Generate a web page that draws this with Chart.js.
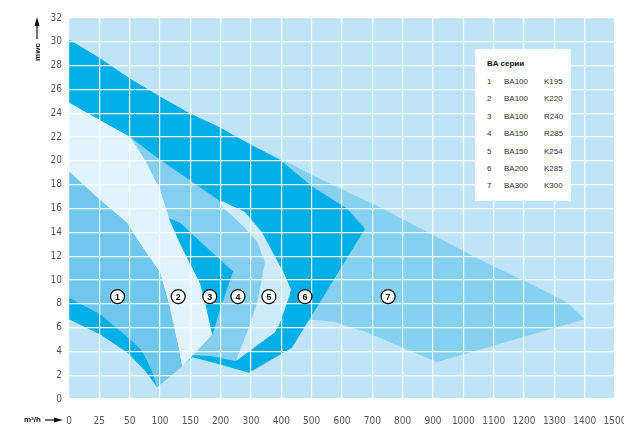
<!DOCTYPE html>
<html>
<head>
<meta charset="utf-8">
<script src="https://cdn.jsdelivr.net/npm/chart.js@4.4.1/dist/chart.umd.min.js"></script>
<style>
  body { margin: 0; background: #fff; }
  #wrap { position: relative; width: 624px; height: 428px; }
  .axlbl { position: absolute; font-family: 'Liberation Sans', Arial, sans-serif; font-weight: bold; font-size: 8px; color: #111; white-space: nowrap; }
  #legend { position: absolute; left: 475px; top: 49px; width: 96px; height: 152px; background: #fff;
            font-family: 'Liberation Sans', Arial, sans-serif; font-size: 8px; color: #333; }
  #legend div { position: absolute; line-height: 10px; white-space: nowrap; }
</style>
</head>
<body>
<div id="wrap">
  <canvas id="chart" width="624" height="428"></canvas>
  <div class="axlbl" style="left:37px;top:52px;transform:translate(-50%,-50%) rotate(-90deg);">mwc</div>
  <div class="axlbl" style="left:24px;top:415px;line-height:10px;">m³/h</div>
  <div id="legend"></div>
</div>
<script>
// x axis ticks are evenly spaced but not linear in m3/h
const xLabels = [0, 25, 50, 100, 150, 200, 300, 400, 500, 600, 700, 800, 900, 1000, 1100, 1200, 1300, 1400, 1500];

// working areas, flow in m3/h, head in mwc
const r7Flow = [330, 504, 616, 725, 890, 1078, 1220, 1342, 1400, 913, 791, 682, 570, 478, 395, 297];
const r7Head = [21.0, 18.8, 17.4, 16.1, 13.9, 11.4, 9.7, 8.1, 6.7, 3.1, 4.4, 5.6, 6.5, 6.7, 6.6, 12.5];

const r6Flow = [0, 26, 51, 100, 149, 199, 297, 395, 504, 616, 676, 435, 293, 199, 153, 95, 75, 48, 26, 0];
const r6Head = [30.2, 28.6, 26.9, 25.4, 24.0, 22.8, 21.4, 20.1, 17.8, 16.0, 14.3, 4.3, 2.2, 2.9, 3.5, 1.0, 2.4, 3.9, 5.4, 6.7];

const r4Flow = [51, 100, 149, 199, 297, 363, 412, 429, 389, 247, 186, 149, 125, 100, 67];
const r4Head = [22.0, 20.1, 18.4, 16.6, 15.0, 12.5, 10.0, 8.7, 6.1, 3.2, 3.6, 3.7, 5.0, 12.5, 18.4];

const r3Flow = [100, 133, 182, 241, 199, 186, 149, 108];
const r3Head = [15.5, 14.8, 12.5, 10.7, 7.5, 5.3, 8.3, 13.4];

const r5Flow = [199, 280, 336, 376, 406, 432, 396, 379, 250, 290, 323, 346, 320, 274, 224, 204];
const r5Head = [16.7, 15.7, 14.0, 12.1, 10.7, 9.2, 6.4, 5.6, 3.2, 5.8, 8.3, 11.5, 13.2, 14.5, 15.7, 16.1];

const r2Flow = [0, 26, 51, 75, 100, 116, 135, 166, 177, 186, 136, 130, 116, 100, 69, 0];
const r2Head = [24.9, 23.4, 22.0, 20.1, 17.6, 15.0, 12.8, 9.7, 7.5, 5.4, 2.7, 4.4, 7.7, 10.6, 12.9, 19.1];

const r1Flow = [0, 26, 48, 69, 100, 116, 130, 136, 95, 87, 70, 48, 26, 0];
const r1Head = [19.1, 16.7, 14.8, 12.9, 10.6, 7.7, 4.4, 2.7, 1.0, 2.3, 4.1, 5.2, 7.1, 8.5];

// circled numbers
const labelNum = [1, 2, 3, 4, 5, 6, 7];
const labelFlow = [40, 130, 182, 257, 359, 478, 752];
const labelHead = [8.6, 8.6, 8.6, 8.6, 8.6, 8.6, 8.6];

// legend table
const legendNo = ['1', '2', '3', '4', '5', '6', '7'];
const legendModel = ['BA100', 'BA100', 'BA100', 'BA150', 'BA150', 'BA200', 'BA300'];
const legendImp = ['K195', 'K220', 'R240', 'R285', 'K254', 'K285', 'K300'];

const plotBg = '#bee4f6';

function toIdx(q) {
  for (let i = 0; i < xLabels.length - 1; i++) {
    if (q <= xLabels[i + 1]) return i + (q - xLabels[i]) / (xLabels[i + 1] - xLabels[i]);
  }
  return xLabels.length - 1;
}

// bottom to top
const regions = [
  {flow: r7Flow, head: r7Head, color: '#86d0f0'},
  {flow: r6Flow, head: r6Head, color: '#00afe6'},
  {flow: r4Flow, head: r4Head, color: '#84cef0'},
  {flow: r3Flow, head: r3Head, color: '#00afe6'},
  {flow: r5Flow, head: r5Head, color: '#cdeaf8'},
  {flow: r2Flow, head: r2Head, color: '#e1f3fc'},
  {flow: r1Flow, head: r1Head, color: '#70c7ee'},
];

const datasets = regions.map((r, i) => {
  const pts = r.flow.map((f, k) => ({x: toIdx(f), y: r.head[k]}));
  pts.push(pts[0]);
  return {
    data: pts,
    showLine: true,
    fill: 'shape',
    backgroundColor: r.color,
    borderWidth: 0,
    pointRadius: 0,
    tension: 0,
    order: regions.length - i
  };
});

const decor = {
  id: 'decor',
  beforeDatasetsDraw(chart) {
    const {ctx, chartArea: a} = chart;
    ctx.save();
    ctx.fillStyle = plotBg;
    ctx.fillRect(a.left, a.top, a.right - a.left, a.bottom - a.top);
    ctx.restore();
  },
  afterDraw(chart) {
    const ctx = chart.ctx;
    const xs = chart.scales.x, ys = chart.scales.y;
    ctx.save();
    labelNum.forEach((n, i) => {
      const px = xs.getPixelForValue(toIdx(labelFlow[i]));
      const py = ys.getPixelForValue(labelHead[i]);
      ctx.beginPath();
      ctx.arc(px, py, 7, 0, Math.PI * 2);
      ctx.fillStyle = '#fff';
      ctx.fill();
      ctx.lineWidth = 1.3;
      ctx.strokeStyle = '#111';
      ctx.stroke();
      ctx.fillStyle = '#111';
      ctx.font = 'bold 9px "Liberation Sans", Arial, sans-serif';
      ctx.textAlign = 'center';
      ctx.textBaseline = 'middle';
      ctx.fillText(String(n), px, py + 0.5);
    });
    // axis arrows
    ctx.strokeStyle = '#111';
    ctx.fillStyle = '#111';
    ctx.lineWidth = 1.2;
    ctx.beginPath(); ctx.moveTo(37, 39); ctx.lineTo(37, 25); ctx.stroke();
    ctx.beginPath(); ctx.moveTo(37, 17); ctx.lineTo(34.5, 26); ctx.lineTo(39.5, 26); ctx.closePath(); ctx.fill();
    ctx.beginPath(); ctx.moveTo(45, 420); ctx.lineTo(56, 420); ctx.stroke();
    ctx.beginPath(); ctx.moveTo(63, 420); ctx.lineTo(54, 417.5); ctx.lineTo(54, 422.5); ctx.closePath(); ctx.fill();
    ctx.restore();
  }
};

const tickFont = {family: "'Liberation Sans Narrow', 'DejaVu Sans Condensed', Arial, sans-serif", size: 10};

new Chart('chart', {
  type: 'scatter',
  data: {datasets: datasets},
  options: {
    responsive: false,
    animation: false,
    events: [],
    layout: {padding: {top: 18, right: 9, left: 0, bottom: 0}},
    plugins: {legend: {display: false}, tooltip: {enabled: false}},
    scales: {
      x: {
        type: 'linear', min: 0, max: 18,
        afterFit(s) { s.height = 29; s.paddingLeft = 0; s.paddingRight = 0; },
        grid: {color: '#ffffff', lineWidth: 1.2, drawTicks: false, z: 1},
        border: {display: false},
        ticks: {stepSize: 1, autoSkip: false, maxRotation: 0, padding: 16, color: '#555', font: tickFont,
                callback: v => xLabels[v]}
      },
      y: {
        min: 0, max: 32,
        afterFit(s) { s.width = 69; s.paddingTop = 0; s.paddingBottom = 0; },
        grid: {color: '#ffffff', lineWidth: 1.2, drawTicks: false, z: 1},
        border: {display: false},
        ticks: {stepSize: 2, padding: 7, color: '#555', font: tickFont}
      }
    }
  },
  plugins: [decor]
});

// legend box
const lg = document.getElementById('legend');
let html = '<div style="left:12px;top:10px;font-weight:bold;color:#111;">BA серии</div>';
legendNo.forEach((n, i) => {
  const top = 28 + i * 17.4;
  html += '<div style="left:12px;top:' + top + 'px;">' + n + '</div>';
  html += '<div style="left:29px;top:' + top + 'px;">' + legendModel[i] + '</div>';
  html += '<div style="left:69px;top:' + top + 'px;">' + legendImp[i] + '</div>';
});
lg.innerHTML = html;
</script>
</body>
</html>
